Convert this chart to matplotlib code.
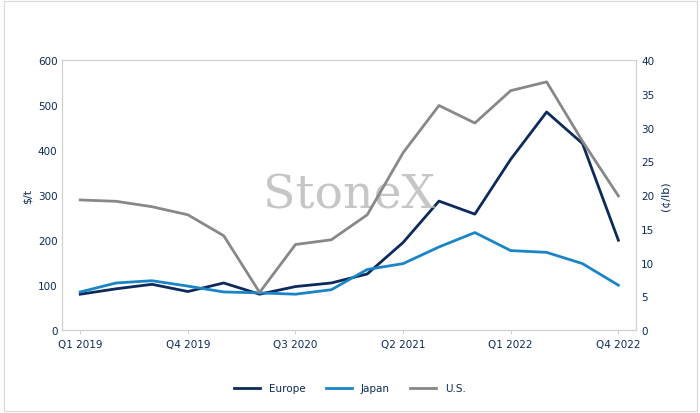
import matplotlib.pyplot as plt

quarters = ["Q1 2019", "Q2 2019", "Q3 2019", "Q4 2019", "Q1 2020", "Q2 2020", "Q3 2020", "Q4 2020",
            "Q1 2021", "Q2 2021", "Q3 2021", "Q4 2021", "Q1 2022", "Q2 2022", "Q3 2022", "Q4 2022"]
europe = [80, 92, 102, 86, 105, 80, 97, 105, 125, 195, 287, 258, 380, 485, 415, 200]
japan = [85, 105, 110, 98, 85, 83, 80, 90, 135, 148, 185, 217, 177, 173, 148, 100]
us_cents = [19.3, 19.1, 18.3, 17.1, 14.0, 5.6, 12.7, 13.4, 17.1, 26.3, 33.3, 30.7, 35.5, 36.8, 28.0, 19.9]

fig = plt.figure(figsize=(7, 4.14), dpi=100)
ax = fig.add_axes([0.089, 0.2, 0.82, 0.652])
ax2 = ax.twinx()
x = range(len(quarters))

ax.plot(x, europe, color="#0c2a5b", lw=2, label="Europe")
ax.plot(x, japan, color="#1a85c6", lw=2, label="Japan")
ax2.plot(x, us_cents, color="#888888", lw=2, label="U.S.")

ax.set_ylim(0, 600)
ax.set_yticks(range(0, 601, 100))
ax2.set_ylim(0, 40)
ax2.set_yticks(range(0, 41, 5))
ax.set_xlim(-0.5, 15.5)
ax.set_xticks(range(0, 16, 3))
ax.set_xticklabels(quarters[::3])
ax.set_ylabel("$/t", color="#0c2a5b", fontsize=8)
ax2.set_ylabel("(¢/lb)", color="#0c2a5b", fontsize=8)

for a in (ax, ax2):
    a.tick_params(labelsize=7.5, colors="#0c2a5b", length=0)
    for s in a.spines.values():
        s.set_color("#d0d0d0")
ax.tick_params(axis="x", length=3, color="#d0d0d0")

ax.text(0.5, 0.5, "StoneX", transform=ax.transAxes, ha="center", va="center",
        fontsize=34, family="serif", color="#b8b8b8", alpha=0.8)

h1, l1 = ax.get_legend_handles_labels()
h2, l2 = ax2.get_legend_handles_labels()
fig.legend(h1 + h2, l1 + l2, loc="center", bbox_to_anchor=(0.5, 0.06), ncol=3,
           frameon=False, fontsize=7.5, labelcolor="#0c2a5b", handlelength=2.5)

fig.patches.append(plt.Rectangle((0.005, 0.005), 0.99, 0.99, transform=fig.transFigure,
                                 fill=False, edgecolor="#d8d8d8", lw=0.8))
fig.savefig("out.png")
